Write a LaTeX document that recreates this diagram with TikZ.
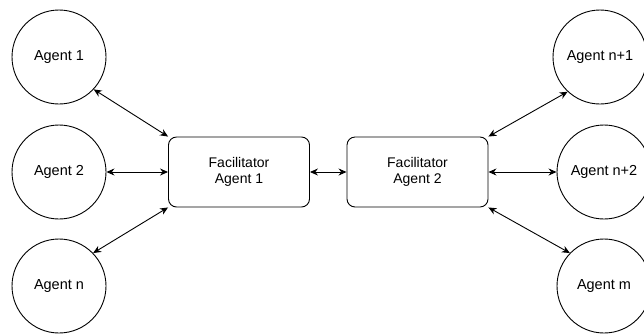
\documentclass[tikz,border=0pt]{standalone}
\usepackage{fontspec}
\setmainfont{Liberation Sans}
\usetikzlibrary{arrows.meta}
\begin{document}
\begin{tikzpicture}[x=1pt,y=-1pt,
  agent/.style={circle,draw,line width=0.9pt,minimum size=94pt,inner sep=0pt,
    font=\fontsize{14.5}{17}\selectfont},
  facil/.style={rectangle,rounded corners=8pt,draw,line width=0.9pt,
    minimum width=141pt,minimum height=70pt,align=center,
    font=\fontsize{14}{16.5}\selectfont},
  link/.style={line width=0.9pt,{Stealth[length=8pt,width=7pt]}-{Stealth[length=8pt,width=7pt]}}]
\useasboundingbox (0,0) rectangle (644,333);
% agents on the left
\node[agent] (a1) at (59,57) {Agent 1};
\node[agent] (a2) at (59,172) {Agent 2};
\node[agent] (an) at (59,286) {Agent n};
% agents on the right
\node[agent] (b1) at (600,57) {Agent n+1};
\node[agent] (b2) at (604,172) {Agent n+2};
\node[agent] (bm) at (604,286) {Agent m};
% facilitators
\node[facil] (f1) at (239,172) {Facilitator\\Agent 1};
\node[facil] (f2) at (417.5,172) {Facilitator\\Agent 2};
% connections
\draw[link] (a1.-43) -- (f1.north west);
\draw[link] (a2) -- (f1);
\draw[link] (an.44) -- (f1.south west);
\draw[link] (f1) -- (f2);
\draw[link] (f2.north east) -- (b1.-133);
\draw[link] (f2) -- (b2);
\draw[link] (f2.south east) -- (bm.136);
\end{tikzpicture}
\end{document}
